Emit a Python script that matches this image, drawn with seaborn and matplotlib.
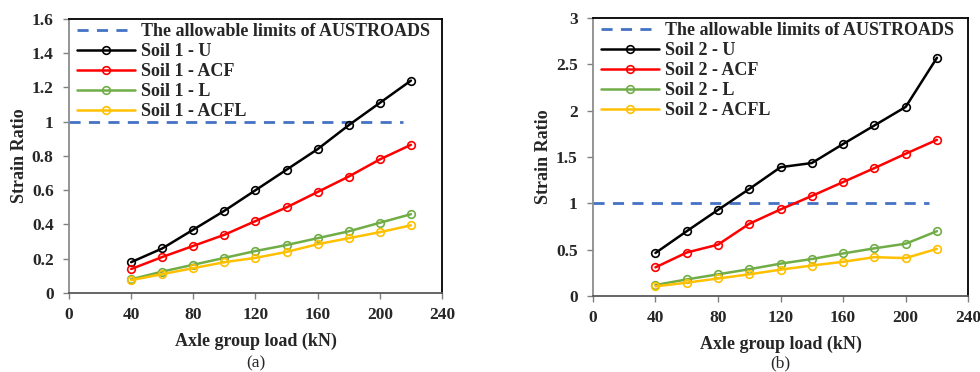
import numpy as np
import pandas as pd
import matplotlib
matplotlib.use("Agg")
import matplotlib.pyplot as plt
import seaborn as sns

loads = [40, 60, 80, 100, 120, 140, 160, 180, 200, 220]
limit_x = [0, 215]
limit_y = [1, 1]

s1_U = [0.18, 0.26, 0.37, 0.48, 0.60, 0.72, 0.84, 0.98, 1.11, 1.24]
s1_ACF = [0.14, 0.21, 0.275, 0.34, 0.42, 0.50, 0.59, 0.68, 0.78, 0.865]
s1_L = [0.08, 0.125, 0.165, 0.205, 0.245, 0.28, 0.32, 0.36, 0.41, 0.46]
s1_ACFL = [0.075, 0.11, 0.145, 0.18, 0.205, 0.24, 0.285, 0.32, 0.355, 0.395]

s2_U = [0.465, 0.70, 0.93, 1.155, 1.39, 1.435, 1.64, 1.84, 2.04, 2.57]
s2_ACF = [0.31, 0.47, 0.555, 0.78, 0.935, 1.08, 1.23, 1.38, 1.535, 1.685]
s2_L = [0.12, 0.18, 0.235, 0.29, 0.35, 0.40, 0.46, 0.515, 0.565, 0.70]
s2_ACFL = [0.105, 0.145, 0.19, 0.235, 0.285, 0.33, 0.37, 0.42, 0.41, 0.51]

suffixes = ["U", "ACF", "L", "ACFL"]
colors = ["#000000", "#FF0000", "#70AD47", "#FFC000"]
limit_color = "#4472C4"

sns.set_style("white")
plt.rcParams['font.family'] = ['Liberation Serif', 'DejaVu Serif']
plt.rcParams['font.weight'] = 'bold'
plt.rcParams['axes.labelweight'] = 'bold'

fig = plt.figure(figsize=(9.8, 3.72), dpi=100)
ax1 = fig.add_axes([0.0704, 0.2124, 0.3806, 0.7366])
ax2 = fig.add_axes([0.605, 0.204, 0.383, 0.748])

panels = [
    (ax1, "Soil 1", [s1_U, s1_ACF, s1_L, s1_ACFL], 1.6, np.arange(0, 1.61, 0.2), "(a)", -0.258),
    (ax2, "Soil 2", [s2_U, s2_ACF, s2_L, s2_ACFL], 3.0, np.arange(0, 3.01, 0.5), "(b)", -0.243),
]

for ax, soil, series, ymax, yticks, tag, tagy in panels:
    sns.lineplot(x=limit_x, y=limit_y, ax=ax, color=limit_color, lw=2.0,
                 linestyle=(0, (4, 3)), label="The allowable limits of AUSTROADS")
    for suf, vals, c in zip(suffixes, series, colors):
        sns.lineplot(x=loads, y=vals, ax=ax, color=c, lw=1.8, marker='o',
                     markersize=5.5, markerfacecolor='none', markeredgecolor=c,
                     markeredgewidth=1.2, label=f"{soil} - {suf}")
    ax.set_xlim(0, 240)
    ax.set_ylim(0, ymax)
    ax.set_xticks(np.arange(0, 241, 40))
    ax.set_yticks(yticks)
    ax.set_yticklabels([f"{t:g}" for t in yticks])
    ax.tick_params(axis='both', labelsize=12.5, direction='out', length=4,
                   width=1, color='#808080', bottom=True, left=True)
    ax.tick_params(axis='x', pad=6)
    ax.tick_params(axis='y', pad=7)
    for lab in ax.get_xticklabels() + ax.get_yticklabels():
        lab.set_fontweight('bold')
    for name, sp in ax.spines.items():
        sp.set_visible(True)
        sp.set_linewidth(1.3)
        sp.set_color({'left': '#8c8c8c', 'bottom': '#595959'}.get(name, 'black'))
    ax.set_xlabel("Axle group load (kN)", fontsize=13, fontweight='bold', labelpad=7)
    ax.set_ylabel("Strain Ratio", fontsize=13, fontweight='bold', labelpad=3)
    ax.text(0.5, tagy, tag, transform=ax.transAxes, ha='center', va='center',
            fontsize=12.5, fontweight='normal')
    leg = ax.legend(loc='upper left', frameon=False, fontsize=13,
                    handlelength=3.2, labelspacing=0.16, borderaxespad=0.0,
                    bbox_to_anchor=(0.01, 1.0), handletextpad=0.35,
                    borderpad=0.25)
    for t in leg.get_texts():
        t.set_fontweight('bold')

fig.savefig("out.png", dpi=100, facecolor='white')
